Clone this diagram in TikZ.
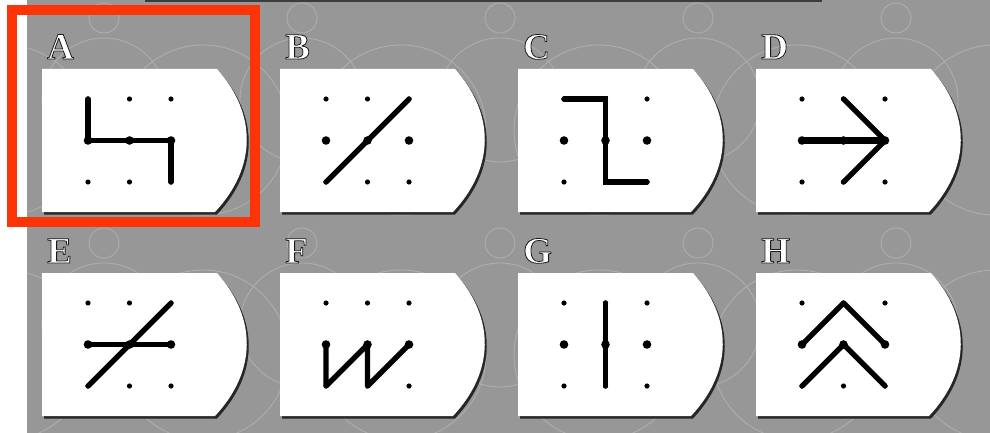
\documentclass[tikz,border=0pt]{standalone}
\usepackage{fontspec}
\setmainfont{Liberation Serif}
\definecolor{bg}{RGB}{151,151,151}
\definecolor{redbox}{RGB}{252,52,8}
\definecolor{topbar}{RGB}{60,60,60}
\tikzset{
  cardshape/.pic={
    \fill[black!85] (2,2.5) -- (177,2.5) .. controls (217,47.5) and (217,100.5) .. (175,145.5) -- (2,145.5) -- cycle;
    \fill[white] (0,0) -- (175,0) .. controls (215,45) and (215,98) .. (173,143) -- (0,143) -- cycle;
  },
  glyph/.style={line width=5.3pt, line cap=round, line join=round},
  sqglyph/.style={glyph, line join=miter},
  lab/.style={font=\fontsize{37}{37}\selectfont\bfseries, inner sep=0pt, anchor=base west, text=white},
  motif/.style={draw=bg!78!white, line width=0.9pt},
}
\newcommand\shadowed[1]{\special{pdf:literal direct 0.1 G 0.8 w 1 j 2 Tr}#1\special{pdf:literal direct 0 Tr}}
\newcommand\mkcard[3]{%
  \begin{scope}[shift={(#2,#3)}]
    \pic {cardshape};
    \foreach \c in {0,1,2}{\foreach \r in {0,1,2}{\coordinate (#1-\c\r) at ({46+41.5*\c},{30+41.5*\r});}}
    \foreach \c in {0,1,2}{%
      \fill (#1-\c0) circle[radius=2.6pt];
      \fill (#1-\c1) circle[radius=4.3pt];
      \fill (#1-\c2) circle[radius=2.6pt];}
    \node[lab] (lab#1) at (5,-10) {\shadowed{#1}};
  \end{scope}}
\begin{document}
\begin{tikzpicture}[x=1pt,y=-1pt]
\useasboundingbox (0,0) rectangle (990,433);
\fill[white] (0,0) rectangle (990,433);
\begin{scope}
\clip (27,0) rectangle (990,433);
\fill[bg] (27,0) rectangle (990,433);
% faint background motif
\foreach \i in {0,...,5}{\foreach \j in {0,1}{
  \draw[motif] ({104+198*\i},{18+225*\j}) circle[radius=15pt];
  \draw[motif] ({104+198*\i},{100+225*\j}) circle[radius=62pt];
  \draw[motif] ({5+198*\i},{130+225*\j}) circle[radius=85pt];
}}
\end{scope}
\fill[topbar] (145,0) rectangle (822,2.5);

\mkcard{A}{42}{69}
\mkcard{B}{280}{69}
\mkcard{C}{518}{69}
\mkcard{D}{756}{69}
\mkcard{E}{42}{273}
\mkcard{F}{280}{273}
\mkcard{G}{518}{273}
\mkcard{H}{756}{273}

% glyphs
\draw[sqglyph] (A-00) -- (A-01) -- (A-21) -- (A-22);
\draw[glyph] (B-02) -- (B-20);
\draw[sqglyph] (C-00) -- (C-10) -- (C-12) -- (C-22);
\draw[glyph, line width=6pt] (D-01) -- (D-21);
\draw[glyph] (D-10) -- (D-21) -- (D-12);
\draw[glyph] (E-01) -- (E-21);
\draw[glyph] (E-02) -- (E-20);
\draw[glyph] (F-01) -- (F-02) -- (F-11) -- (F-12) -- (F-21);
\draw[glyph] (G-10) -- (G-12);
\draw[glyph] (H-01) -- (H-10) -- (H-21);
\draw[glyph] (H-02) -- (H-11) -- (H-22);

% selection frame
\draw[redbox, line width=10pt] (12,10) rectangle (255,222);
\end{tikzpicture}
\end{document}
